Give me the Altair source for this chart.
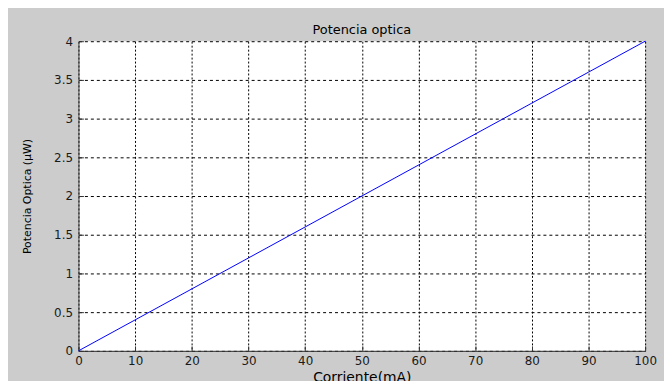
import altair as alt
import pandas as pd

corriente = [0, 10, 20, 30, 40, 50, 60, 70, 80, 90, 100]
potencia = [0.0, 0.4, 0.8, 1.2, 1.6, 2.0, 2.4, 2.8, 3.2, 3.6, 4.0]
x_ticks = [0, 10, 20, 30, 40, 50, 60, 70, 80, 90, 100]
y_ticks = [0, 0.5, 1, 1.5, 2, 2.5, 3, 3.5, 4]

df = pd.DataFrame({"I": corriente, "P": potencia})

W, H = 571, 312
FONT = "DejaVu Sans"

xs = alt.Scale(domain=[0, 100], nice=False, zero=False)
ys = alt.Scale(domain=[0, 4], nice=False, zero=False)

base = alt.Chart(df)

line = base.mark_line(color="#0000ff", strokeWidth=1).encode(
    x=alt.X("I:Q", scale=xs, axis=alt.Axis(
        orient="bottom", values=x_ticks, format="d", ticks=False,
        domainColor="#333333", domainWidth=1, labelFlush=False, labelOverlap=False,
        grid=True, gridColor="#000000", gridOpacity=1, gridDash=[2, 2], gridWidth=1,
        labelFont=FONT, labelFontSize=12, labelColor="#1a1a1a", labelPadding=5,
        title="Corriente(mA)", titleFont=FONT, titleFontSize=14,
        titleFontWeight="normal", titleColor="#000000", titlePadding=4)),
    y=alt.Y("P:Q", scale=ys, axis=alt.Axis(
        orient="left", values=y_ticks, format="~g", ticks=False,
        domainColor="#333333", domainWidth=1, labelFlush=False, labelOverlap=False,
        grid=True, gridColor="#000000", gridOpacity=1, gridDash=[3, 3], gridWidth=1,
        labelFont=FONT, labelFontSize=12, labelColor="#1a1a1a", labelPadding=6,
        title="Potencia Optica (µW)", titleFont=FONT, titleFontSize=11,
        titleFontWeight="normal", titleColor="#000000", titlePadding=21)),
)

ticks = base.mark_line(opacity=0).encode(
    x=alt.X("I:Q", scale=xs, axis=alt.Axis(
        orient="top", offset=-H, values=x_ticks, labels=False, domain=False,
        grid=False, ticks=True, tickSize=5, tickColor="#333333", title=None)),
    y=alt.Y("P:Q", scale=ys, axis=alt.Axis(
        orient="right", offset=-W, values=y_ticks, labels=False, domain=False,
        grid=False, ticks=True, tickSize=5, tickColor="#333333", title=None)),
)

chart = alt.layer(line, ticks).resolve_axis(x="independent", y="independent").properties(
    width=W, height=H,
    title=alt.TitleParams("Potencia optica", font=FONT, fontSize=13,
                          fontWeight="normal", color="#000000", offset=-2),
    autosize=alt.AutoSizeParams(type="none"),
    padding={"left": 71, "top": 32, "right": 19, "bottom": 40},
    background="#cccccc",
).configure_view(fill="#ffffff", stroke=None)

chart.save("out.html", embed_options={"renderer": "svg", "actions": False})
